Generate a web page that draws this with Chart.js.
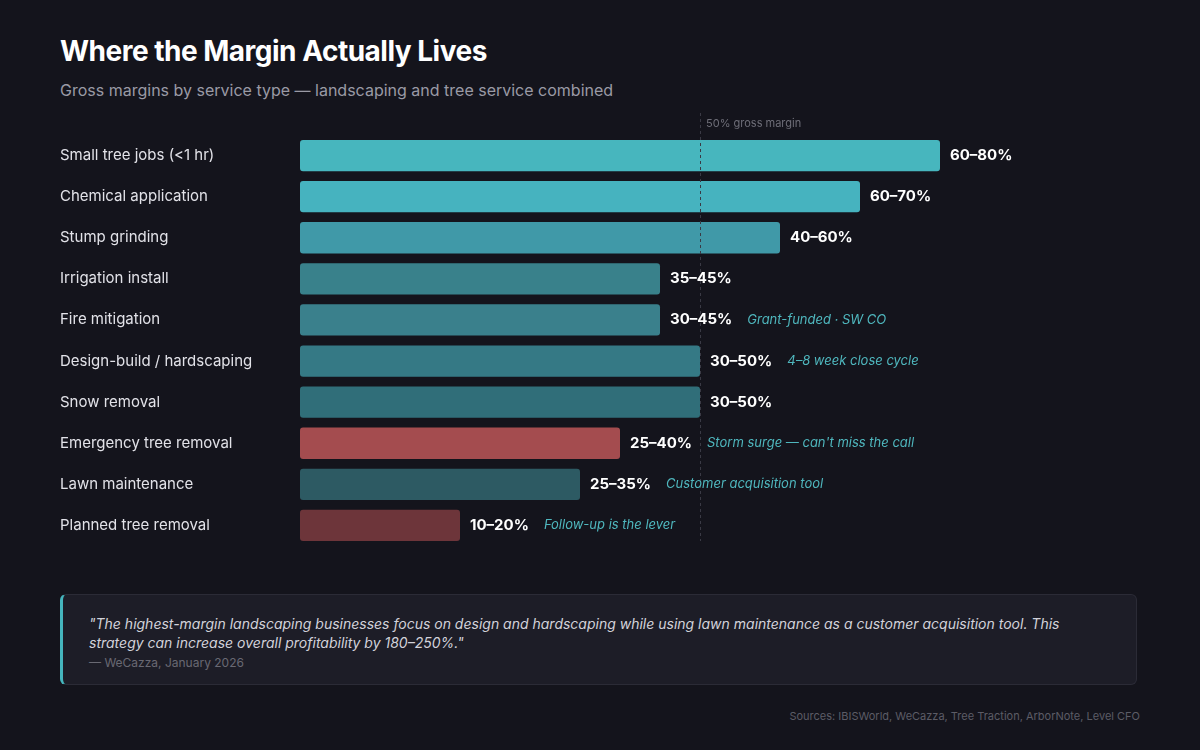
<!DOCTYPE html>
<html><head><meta charset="utf-8">
<script src="https://cdn.jsdelivr.net/npm/chart.js@4"></script>
<style>
body{margin:0;background:#14141c;font-family:Inter,sans-serif;width:1200px;height:750px;position:relative;overflow:hidden}
#t{position:absolute;left:60px;top:34px;font-size:28px;font-weight:700;color:#fff;letter-spacing:-0.5px}
#s{position:absolute;left:60px;top:80px;font-size:16px;color:#9a9aa5}
#c{position:absolute;left:60px;top:105px;width:1080px;height:450px}
#q{position:absolute;left:60px;top:594px;width:1077px;height:91px;background:#1d1d27;border:1px solid #2b2b36;border-left:3px solid #45b5bd;border-radius:6px;box-sizing:border-box}
#q p{margin:0;position:absolute;left:26px;top:19px;font-size:14px;font-style:italic;color:#d2d2da;line-height:19px;width:1000px}
#q span{position:absolute;left:26px;top:60px;font-size:12px;color:#696973}
#src{position:absolute;right:60px;top:709px;font-size:11px;color:#5c5c66}
</style></head><body>
<div id="t">Where the Margin Actually Lives</div>
<div id="s">Gross margins by service type — landscaping and tree service combined</div>
<div id="c"><canvas id="cv"></canvas></div>
<div id="q"><p>"The highest-margin landscaping businesses focus on design and hardscaping while using lawn maintenance as a customer acquisition tool. This strategy can increase overall profitability by 180–250%."</p><span>— WeCazza, January 2026</span></div>
<div id="src">Sources: IBISWorld, WeCazza, Tree Traction, ArborNote, Level CFO</div>
<script>
const categories=["Small tree jobs (<1 hr)","Chemical application","Stump grinding","Irrigation install","Fire mitigation","Design-build / hardscaping","Snow removal","Emergency tree removal","Lawn maintenance","Planned tree removal"];
const highValues=[80,70,60,45,45,50,50,40,35,20];
const rangeLabels=["60–80%","60–70%","40–60%","35–45%","30–45%","30–50%","30–50%","25–40%","25–35%","10–20%"];
const notes=["","","","","Grant-funded · SW CO","4–8 week close cycle","","Storm surge — can't miss the call","Customer acquisition tool","Follow-up is the lever"];
const colors=["#47b6be","#46b3bf","#4099a8","#39818b","#3a808c","#357985","#306e79","#a44c4f","#2d5a63","#6d353a"];
const refLine=50;
const plug={id:'p',afterDatasetsDraw(ch){
 const c=ch.ctx,x=ch.scales.x,m=ch.getDatasetMeta(0);
 c.save();
 const rx=x.getPixelForValue(refLine);
 c.strokeStyle='#3a3a45';c.setLineDash([3,3]);c.lineWidth=1;
 c.beginPath();c.moveTo(rx+0.5,8);c.lineTo(rx+0.5,ch.chartArea.bottom-5);c.stroke();c.setLineDash([]);
 c.fillStyle='#6e6e78';c.font='11px Inter';c.textBaseline='middle';c.fillText(refLine+'% gross margin',rx+6,19);
 m.data.forEach((b,i)=>{
  c.font='bold 15px Inter';c.fillStyle='#fff';
  const tx=b.x+10;c.fillText(rangeLabels[i],tx,b.y);
  if(notes[i]){const w=c.measureText(rangeLabels[i]).width;c.font='italic 13px Inter';c.fillStyle='#4fb7be';c.fillText(notes[i],tx+w+15,b.y);}
 });
 c.restore();}};
new Chart(document.getElementById('cv'),{type:'bar',
 data:{labels:categories,datasets:[{data:highValues,backgroundColor:colors,borderRadius:3,borderSkipped:false,barPercentage:32/42,categoryPercentage:1}]},
 options:{indexAxis:'y',responsive:true,maintainAspectRatio:false,animation:false,
  layout:{padding:{top:30,bottom:0,left:0,right:0}},
  plugins:{legend:{display:false},tooltip:{enabled:false}},
  scales:{x:{min:0,max:105,display:false},
   y:{grid:{display:false},border:{display:false},afterFit(a){a.width=240},
    ticks:{crossAlign:'far',color:'#e2e2e8',font:{size:15,family:'Inter'},padding:0}}}},
 plugins:[plug]});
</script></body></html>
